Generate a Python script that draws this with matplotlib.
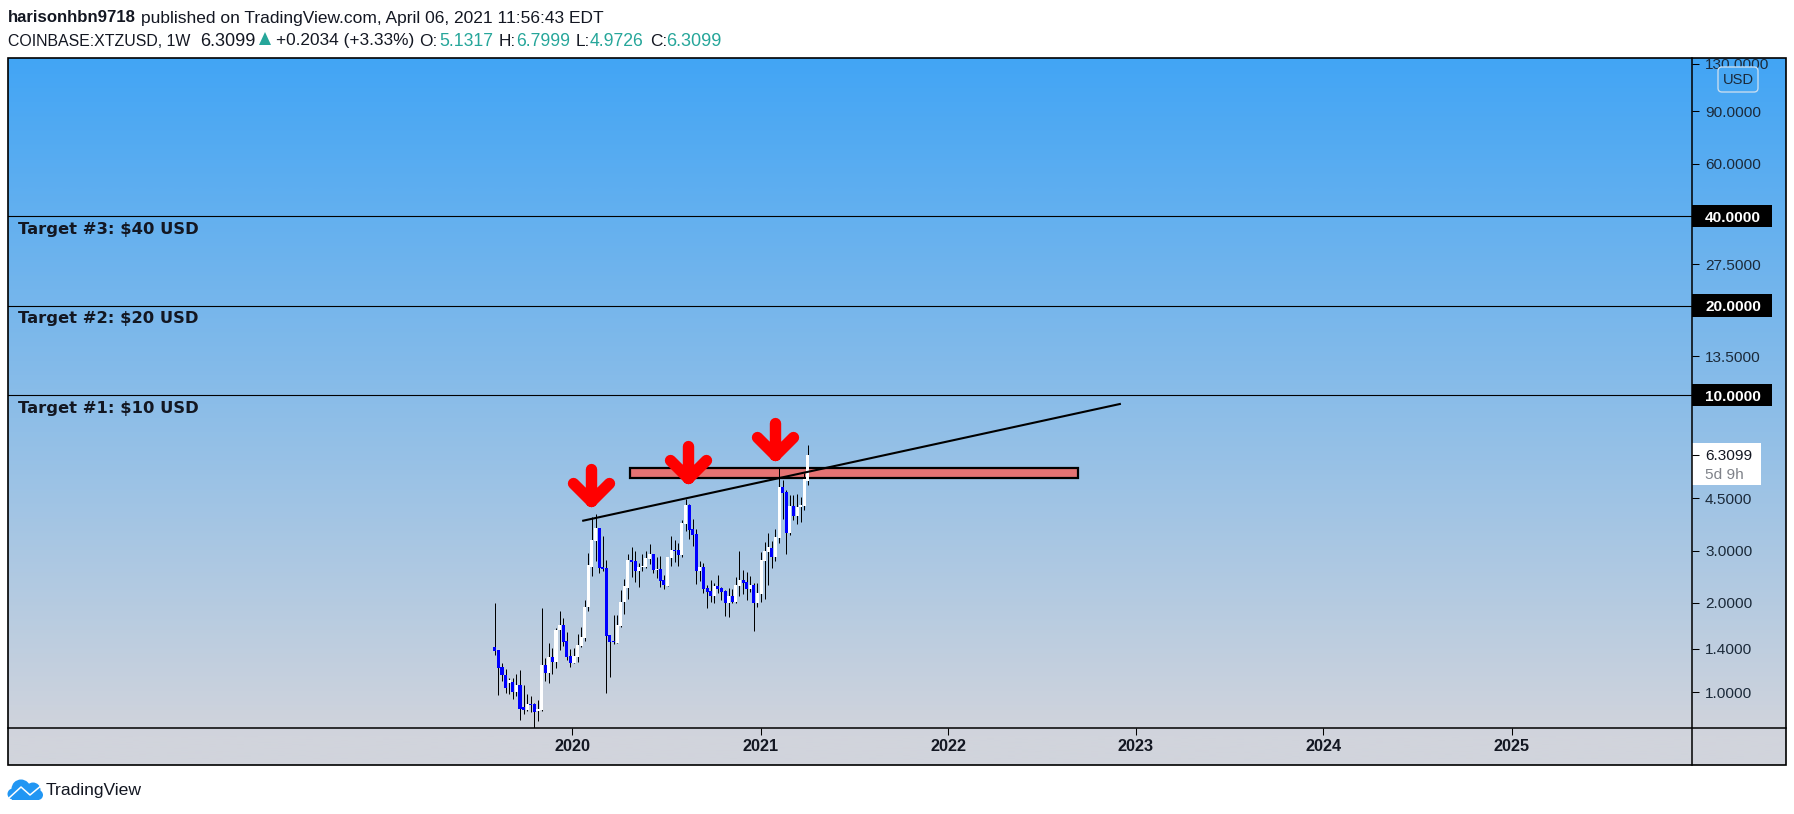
"""XTZUSD weekly candles with target levels, TradingView style snapshot"""

import matplotlib
matplotlib.use('Agg')
import matplotlib.dates as mdates
import matplotlib.pyplot as plt
import numpy as np
import pandas as pd
from matplotlib.markers import MarkerStyle
from matplotlib.patches import Circle, FancyBboxPatch, Polygon, Rectangle
from matplotlib.path import Path

# weekly candles, oldest first
opens = [1.417, 1.388, 1.213, 1.140, 1.078, 1.083, 1.002, 1.058, 0.892, 0.872, 0.913,
         0.913, 0.867, 0.872, 1.235, 1.161, 1.315, 1.264, 1.620, 1.684, 1.488, 1.325,
         1.254, 1.315, 1.431, 1.523, 1.936, 2.647, 3.237, 3.570, 2.640, 2.620, 1.559,
         1.488, 1.465, 1.671, 2.013, 2.244, 2.787, 2.765, 2.559, 2.640, 2.640, 2.816,
         2.919, 2.579, 2.599, 2.387, 2.279, 2.830, 3.011, 3.011, 2.897, 3.683, 4.266,
         3.542, 3.408, 2.559, 2.640, 2.244, 2.192, 2.109, 2.279, 2.244, 2.192, 1.997,
         2.109, 2.013, 2.279, 2.387, 2.350, 2.226, 2.296, 1.997, 2.142, 2.765, 2.965,
         3.059, 2.853, 3.305, 4.904, 4.718, 3.434, 4.233, 3.918, 4.201, 4.233, 5.1317]
highs = [1.992, 1.388, 1.251, 1.203, 1.122, 1.122, 1.152, 1.188, 1.058, 0.987, 0.971,
         0.918, 0.942, 1.916, 1.301, 1.465, 1.406, 1.641, 1.878, 1.774, 1.591, 1.399,
         1.410, 1.571, 1.654, 2.044, 2.934, 3.878, 3.970, 3.570, 3.356, 2.787, 1.559,
         1.820, 1.820, 2.209, 2.406, 2.919, 3.082, 2.988, 2.716, 2.919, 2.988, 3.155,
         2.919, 2.860, 2.875, 2.481, 2.860, 3.356, 3.254, 3.171, 3.799, 4.469, 4.300,
         3.828, 3.542, 2.765, 2.716, 2.296, 2.387, 2.326, 2.481, 2.267, 2.209, 2.250,
         2.226, 2.449, 2.988, 2.579, 2.539, 2.462, 2.326, 2.326, 2.956, 3.204, 3.434,
         3.229, 3.542, 5.667, 5.178, 4.792, 4.610, 4.610, 4.646, 4.551, 5.452, 6.7999]
lows = [1.335, 0.982, 1.094, 0.997, 0.987, 0.947, 0.971, 0.807, 0.849, 0.865, 0.860,
        0.756, 0.803, 0.867, 1.094, 1.075, 1.152, 1.210, 1.388, 1.431, 1.284, 1.219,
        1.251, 1.264, 1.424, 1.488, 1.877, 2.462, 2.758, 2.526, 2.559, 0.994, 1.128,
        1.454, 1.461, 1.663, 1.835, 2.060, 2.449, 2.350, 2.261, 2.559, 2.613, 2.702,
        2.513, 2.418, 2.261, 2.226, 2.279, 2.661, 2.737, 2.661, 2.860, 3.497, 3.279,
        3.106, 2.314, 2.369, 2.159, 1.921, 2.018, 1.997, 2.164, 2.044, 1.806, 1.792,
        2.002, 1.997, 2.109, 2.142, 2.044, 2.181, 1.608, 1.941, 2.013, 2.060, 2.296,
        2.620, 2.765, 3.179, 3.828, 2.919, 3.382, 3.799, 3.683, 3.741, 4.104, 4.9726]
closes = [1.381, 1.210, 1.143, 1.036, 1.100, 1.002, 1.058, 0.881, 0.872, 0.913, 0.908,
          0.860, 0.881, 1.235, 1.161, 1.315, 1.264, 1.620, 1.684, 1.480, 1.315, 1.254,
          1.325, 1.442, 1.535, 1.936, 2.681, 3.254, 3.570, 2.620, 2.599, 1.547, 1.477,
          1.480, 1.684, 2.013, 2.279, 2.787, 2.744, 2.559, 2.640, 2.661, 2.830, 2.919,
          2.579, 2.599, 2.369, 2.296, 2.853, 3.011, 2.988, 2.897, 3.712, 4.266, 3.515,
          3.382, 2.559, 2.640, 2.226, 2.176, 2.109, 2.279, 2.226, 2.176, 1.997, 2.109,
          2.013, 2.296, 2.387, 2.332, 2.226, 2.296, 1.997, 2.159, 2.787, 2.988, 3.082,
          2.853, 3.330, 4.904, 4.682, 3.434, 4.233, 3.918, 4.201, 4.266, 5.218, 6.3099]
last_week = '2021-04-03'

target_prices = [40, 20, 10]
target_labels = ['Target #3: $40 USD', 'Target #2: $20 USD', 'Target #1: $10 USD']
target_label_prices = [36.0, 18.06, 9.0]
price_ticks = [130, 90, 60, 40, 27.5, 20, 13.5, 10, 6.3099, 4.5, 3, 2, 1.4, 1]
year_ticks = ['2020-01-01', '2021-01-01', '2022-01-01', '2023-01-01', '2024-01-01', '2025-01-01']
year_labels = ['2020', '2021', '2022', '2023', '2024', '2025']

zone_dates = ['2020-04-22', '2022-09-10']
zone_prices = [5.26, 5.68]
trend_dates = ['2020-01-22', '2022-12-01']
trend_prices = [3.78, 9.33]
arrow_dates = ['2020-02-06', '2020-08-13', '2021-01-29']
arrow_prices = [4.41, 5.28, 6.30]

header_1 = [(8, 'harisonhbn9718', 'bold', '#131722', 12.1),
            (141, 'published on TradingView.com, April 06, 2021 11:56:43 EDT', 'normal', '#131722', 12.5)]
header_2 = [(8, 'COINBASE:XTZUSD, 1W', 'normal', '#131722', 11.4),
            (200, '6.3099', 'normal', '#131722', 13),
            (276, '+0.2034 (+3.33%)', 'normal', '#131722', 12.4),
            (419, 'O:', 'normal', '#131722', 12.4), (439, '5.1317', 'normal', '#26a69a', 12.7),
            (499, 'H:', 'normal', '#131722', 12.4), (516, '6.7999', 'normal', '#26a69a', 12.7),
            (576, 'L:', 'normal', '#131722', 12.4), (590, '4.9726', 'normal', '#26a69a', 12.7),
            (650, 'C:', 'normal', '#131722', 12.4), (666, '6.3099', 'normal', '#26a69a', 13)]

W, H = 1794, 814
plt.rcParams['font.family'] = ['Liberation Sans', 'DejaVu Sans']


def d(s):
    return mdates.date2num(pd.Timestamp(s))


fig = plt.figure(figsize=(W / 100, H / 100), dpi=100, facecolor='white')

# gradient behind everything, coordinates here are image pixels
bg = fig.add_axes([0, 0, 1, 1], zorder=0)
bg.set_xlim(0, W)
bg.set_ylim(H, 0)
bg.axis('off')
top_rgb = np.array([0x42, 0xa5, 0xf5]) / 255
bot_rgb = np.array([0xd1, 0xd4, 0xdc]) / 255
steps = np.clip((np.linspace(58, 765, 256) - 58) / (735 - 58), 0, 1)[:, None, None]
grad = top_rgb[None, None, :] * (1 - steps) + bot_rgb[None, None, :] * steps
bg.imshow(grad, extent=(8, 1786, 765, 58), aspect='auto', interpolation='bilinear')
bg.set_xlim(0, W)
bg.set_ylim(H, 0)

# price pane
ax = fig.add_axes([8 / W, (H - 728) / H, 1684 / W, 670 / H], zorder=1)
ax.patch.set_alpha(0)
for s in ax.spines.values():
    s.set_visible(False)
ax.set_axisbelow(False)
ax.set_yscale('log')
ax.set_ylim(0.759, 136)
ax.set_xlim(d('2016-12-29'), d('2025-12-18'))

# level lines, price scale flags
y_tr = ax.get_yaxis_transform()
flag = 2 ** (11.35 / 89.5)
for p, label, lp in zip(target_prices, target_labels, target_label_prices):
    ax.axhline(p, color='black', lw=0.8, zorder=2)
    ax.add_patch(Rectangle((1, p / flag), 79.7 / 1684, p * flag - p / flag, transform=y_tr,
                           fc='black', ec='none', clip_on=False, zorder=1))
    ax.text(10 / 1684, lp, label, transform=y_tr, family='DejaVu Sans', weight='bold',
            fontsize=11.8, color='#131722', va='center', ha='left', zorder=6)
ax.add_patch(Rectangle((1, 4.98), 69 / 1684, 6.91 - 4.98, transform=y_tr, fc='white',
                       ec='none', clip_on=False, zorder=1))
ax.text(1 + 13 / 1684, 5.38, '5d 9h', transform=y_tr, fontsize=11.1, color='#7f8289',
        va='center', ha='left', zorder=6)

# resistance zone and trend line
ax.add_patch(Rectangle((d(zone_dates[0]), zone_prices[0]), d(zone_dates[1]) - d(zone_dates[0]),
                       zone_prices[1] - zone_prices[0], fc='#e57373', ec='black', lw=1.6, zorder=2))
ax.plot([d(t) for t in trend_dates], trend_prices, color='black', lw=1.5, zorder=4)

# candles
dates = pd.date_range(end=last_week, periods=len(opens), freq='7D')
xs = mdates.date2num(dates.to_pydatetime())
o, h, l, c = map(np.array, (opens, highs, lows, closes))
body_colors = np.where(c >= o, 'white', '#0000ff')
body_low = np.minimum(o, c)
body_high = np.maximum(o, c)
ax.vlines(xs, l, h, color='black', lw=0.72, zorder=3, snap=True)
bodies = ax.bar(xs, body_high - body_low, bottom=body_low, width=6.0, color=body_colors,
                edgecolor='none', zorder=3.2)
for b in bodies:
    b.set_snap(True)

# red arrows, tip sits on the price
arrow_path = Path([(0, 32), (0, 0), (-18, 18), (0, 0), (18, 18)],
                  [Path.MOVETO, Path.LINETO, Path.MOVETO, Path.LINETO, Path.LINETO])
arrow_marker = MarkerStyle(arrow_path, capstyle='round', joinstyle='round')
ax.plot([d(t) for t in arrow_dates], arrow_prices, ls='none', marker=arrow_marker, ms=46,
        mfc='none', mec='#ff0000', mew=8.2, zorder=5)

# axes ticks
ax.set_xticks([d(t) for t in year_ticks])
ax.set_xticklabels(year_labels, fontweight='bold')
ax.tick_params(axis='x', length=4.7, width=0.75, color='black', pad=3, labelsize=11.7,
               labelcolor='#131722')
ax.yaxis.tick_right()
ax.set_yticks(price_ticks)
ax.set_yticklabels(['%.4f' % p for p in price_ticks])
ax.yaxis.set_minor_locator(plt.NullLocator())
ax.tick_params(axis='y', length=4.7, width=0.75, color='black', pad=4.7, labelsize=11.1,
               labelcolor='#1b2a3a')
for tick, p in zip(ax.yaxis.get_major_ticks(), price_ticks):
    if p in target_prices:
        tick.tick2line.set_color('white')
        tick.label2.set_color('white')
        tick.label2.set_fontweight('bold')
    if p == 6.3099:
        tick.label2.set_color('#131722')

# frame, pane borders, USD pill and logo on top
fg = fig.add_axes([0, 0, 1, 1], zorder=2)
fg.set_xlim(0, W)
fg.set_ylim(H, 0)
fg.axis('off')
fg.add_patch(Rectangle((8, 58), 1778, 707, fc='none', ec='black', lw=1.2))
fg.plot([1692, 1692], [58, 765], color='black', lw=1.1)
fg.plot([8, 1786], [728, 728], color='black', lw=1.1)
fg.add_patch(FancyBboxPatch((1721, 70), 34, 19, boxstyle='round,pad=3,rounding_size=4',
                            fc='#47a7f3', ec='#c5dcf0', lw=1))
fg.text(1738, 79.5, 'USD', fontsize=10.6, color='#1b2a3a', ha='center', va='center')

fg.add_patch(Polygon([(259, 45), (265, 32), (271, 45)], fc='#26a69a', ec='none'))
for x, s, w, col, size in header_1:
    fg.text(x, 18, s, fontsize=size, weight=w, color=col, ha='left', va='center')
for x, s, w, col, size in header_2:
    fg.text(x, 41, s, fontsize=size, weight=w, color=col, ha='left', va='center')

for cx, cy, r in [(21, 789, 9.5), (13, 794, 5.5), (33, 790, 7.5), (38, 795, 5)]:
    fg.add_patch(Circle((cx, cy), r, fc='#2196f3', ec='none'))
fg.add_patch(Rectangle((12, 790), 27, 10, fc='#2196f3', ec='none'))
fg.plot([9, 21, 30, 42], [798, 787, 795, 785], color='white', lw=1.1)
fg.text(46, 790, 'TradingView', fontsize=12.6, color='#131722', ha='left', va='center')

fig.savefig('out.png', dpi=100)
